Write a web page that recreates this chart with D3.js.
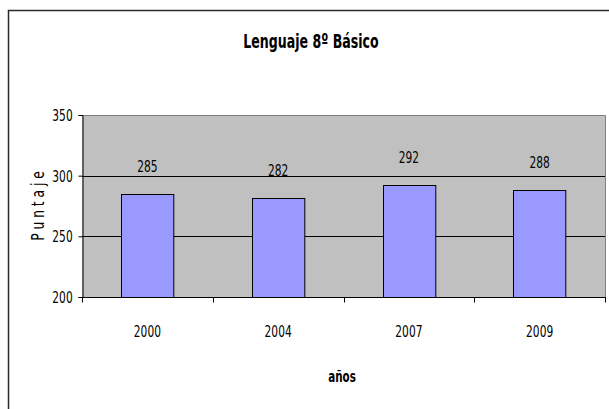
<!DOCTYPE html>
<html>
<head>
<meta charset="utf-8">
<script src="https://cdn.jsdelivr.net/npm/d3@7"></script>
<style>
  body { margin: 0; background: #fff; }
  text { font-family: "DejaVu Sans Condensed", "DejaVu Sans", sans-serif; fill: #000; }
</style>
</head>
<body>
<script>
var years = ['2000', '2004', '2007', '2009']
var scores = [285, 282, 292, 288]
var yTicks = [200, 250, 300, 350]

var width = 609
var height = 409
var plot = { left: 82, right: 605, top: 115, bottom: 297 }

var svg = d3.select('body').append('svg')
    .attr('width', width)
    .attr('height', height)

// narrow text: place at (x, y) and squash horizontally
// (the original font is narrower than anything installed)
function label(g, x0, y0, str, size, bold, sq, rot) {
    return g.append('text')
        .attr('transform', `translate(${x0},${y0})` + (rot ? ` rotate(${rot})` : '') + ` scale(${sq},1)`)
        .attr('text-anchor', 'middle')
        .style('font-size', size + 'px')
        .style('font-weight', bold ? 'bold' : 'normal')
        .text(str)
}

// outer chart frame (runs off the right/bottom edge)
svg.append('rect')
    .attr('x', 8.5).attr('y', 10.5)
    .attr('width', 640).attr('height', 440)
    .attr('fill', '#fff')
    .attr('stroke', '#2b2b2b')
    .attr('stroke-width', 1.5)

var x = d3.scaleBand()
    .domain(years)
    .range([plot.left, plot.right])

var y = d3.scaleLinear()
    .domain([200, 350])
    .range([plot.bottom, plot.top])

// plot background
svg.append('rect')
    .attr('x', plot.left).attr('y', plot.top)
    .attr('width', plot.right - plot.left)
    .attr('height', plot.bottom - plot.top)
    .attr('fill', '#c0c0c0')

// grid lines
svg.selectAll('line.grid')
    .data(yTicks.filter(d => d > 200 && d < 350))
    .enter().append('line')
    .attr('class', 'grid')
    .attr('x1', plot.left).attr('x2', plot.right)
    .attr('y1', d => Math.round(y(d)) + 0.5)
    .attr('y2', d => Math.round(y(d)) + 0.5)
    .attr('stroke', '#000')

// plot border top/right
svg.append('path')
    .attr('d', `M${plot.left},${plot.top + 0.5}H${plot.right + 0.5}V${plot.bottom}`)
    .attr('fill', 'none')
    .attr('stroke', '#808080')
    .attr('stroke-width', 1)

// bars
var barW = x.bandwidth() * 0.4
svg.selectAll('rect.bar')
    .data(scores)
    .enter().append('rect')
    .attr('class', 'bar')
    .attr('x', (d, i) => Math.round(x(years[i]) + x.bandwidth() / 2 - barW / 2) + 0.5)
    .attr('y', d => Math.round(y(d)) + 0.5)
    .attr('width', barW)
    .attr('height', d => Math.round(y(200)) - Math.round(y(d)))
    .attr('fill', '#9999ff')
    .attr('stroke', '#000')
    .attr('stroke-width', 1)

// value labels
scores.forEach((d, i) => {
    label(svg, x(years[i]) + x.bandwidth() / 2, y(d) - 22, d, 16, false, 0.74)
})

// y axis
var yAxis = d3.axisLeft(y).tickValues(yTicks).tickSize(4).tickFormat('')
var gy = svg.append('g')
    .attr('transform', `translate(${plot.left + 0.5},0)`)
    .call(yAxis)
gy.select('.domain').attr('stroke', '#000')
yTicks.forEach(t => {
    label(svg, 62.5, y(t) + 6, t, 16, false, 0.74)
})

// x axis: ticks at band boundaries
var gx = svg.append('g')
    .attr('transform', `translate(0,${Math.round(plot.bottom) + 0.5})`)
gx.append('line')
    .attr('x1', plot.left).attr('x2', plot.right + 1)
    .attr('stroke', '#000')
var bounds = years.map(d => x(d)).concat([plot.right])
gx.selectAll('line.tick')
    .data(bounds)
    .enter().append('line')
    .attr('class', 'tick')
    .attr('x1', d => Math.round(d) + 0.5).attr('x2', d => Math.round(d) + 0.5)
    .attr('y1', 0).attr('y2', 5)
    .attr('stroke', '#000')
years.forEach(d => {
    label(gx, x(d) + x.bandwidth() / 2, 39, d, 16, false, 0.74)
})

// titles
label(svg, 311, 48, 'Lenguaje 8º Básico', 20, true, 0.7)
label(svg, 342, 382, 'años', 16, true, 0.72)
label(svg, 44, (y(300) + y(250)) / 2, 'P u n t a j e', 17, false, 0.8, -90)
</script>
</body>
</html>
